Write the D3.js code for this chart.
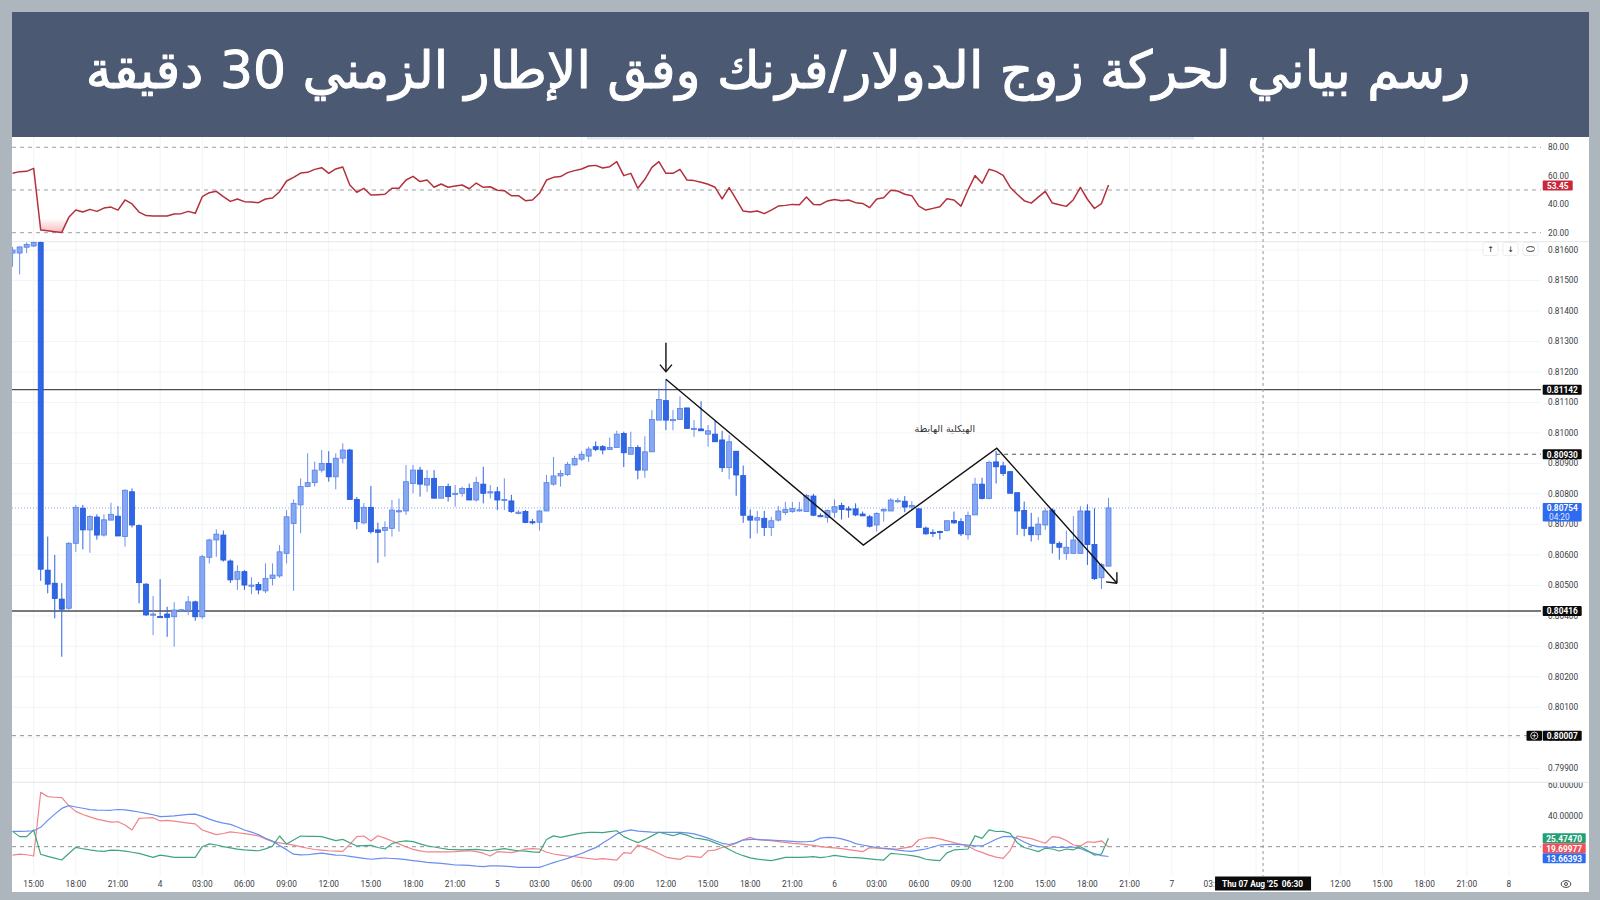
<!DOCTYPE html>
<html><head><meta charset="utf-8">
<script src="https://cdn.jsdelivr.net/npm/d3@7"></script>
<style>
html,body{margin:0;padding:0;background:#adb5bd;}
svg{display:block;}
</style></head><body>
<svg id="c" width="1600" height="900"></svg>
<script>
// ---------------- DATA ----------------
const titleText = "رسم بياني لحركة زوج الدولار/فرنك وفق الإطار الزمني 30 دقيقة";
const structureLabel = "الهيكلية الهابطة";

const openP = [0.81590,0.81590,0.81609,0.81613,0.81625,0.80550,0.80507,0.80455,0.80425,0.80638,
0.80753,0.80682,0.80724,0.80665,0.80714,0.80727,0.80660,0.80807,0.80696,0.80504,
0.80405,0.80398,0.80406,0.80397,0.80419,0.80417,0.80446,0.80397,0.80592,0.80649,
0.80665,0.80580,0.80520,0.80545,0.80500,0.80503,0.80482,0.80523,0.80531,0.80605,
0.80703,0.80764,0.80824,0.80837,0.80878,0.80900,0.80856,0.80917,0.80944,0.80782,
0.80705,0.80756,0.80682,0.80680,0.80687,0.80742,0.80744,0.80834,0.80878,0.80829,
0.80851,0.80786,0.80824,0.80802,0.80802,0.80818,0.80780,0.80832,0.80807,0.80807,
0.80782,0.80777,0.80738,0.80742,0.80709,0.80707,0.80744,0.80832,0.80859,0.80864,
0.80895,0.80914,0.80924,0.80955,0.80955,0.80946,0.80952,0.80998,0.80930,0.80952,
0.80878,0.80938,0.81042,0.81106,0.81044,0.81044,0.81082,0.81015,0.81013,0.80996,
0.80996,0.80977,0.80886,0.80940,0.80860,0.80727,0.80714,0.80720,0.80690,0.80714,
0.80739,0.80742,0.80747,0.80742,0.80793,0.80729,0.80722,0.80740,0.80762,0.80751,
0.80751,0.80734,0.80725,0.80698,0.80744,0.80744,0.80778,0.80776,0.80757,0.80751,
0.80688,0.80674,0.80677,0.80680,0.80713,0.80709,0.80666,0.80731,0.80832,0.80785,
0.80905,0.80892,0.80873,0.80804,0.80746,0.80691,0.80666,0.80698,0.80747,0.80638,
0.80605,0.80605,0.80605,0.80744,0.80634,0.80525,0.80563];
const highP = [0.81610,0.81612,0.81625,0.81630,0.81630,0.80660,0.80600,0.80507,0.80642,0.80764,
0.80764,0.80730,0.80733,0.80733,0.80771,0.80760,0.80815,0.80818,0.80700,0.80507,
0.80465,0.80520,0.80430,0.80445,0.80422,0.80465,0.80450,0.80600,0.80653,0.80684,
0.80680,0.80585,0.80566,0.80550,0.80527,0.80511,0.80572,0.80572,0.80632,0.80747,
0.80782,0.80851,0.80933,0.80906,0.80944,0.80940,0.80933,0.80966,0.80948,0.80790,
0.80770,0.80826,0.80706,0.80710,0.80780,0.80785,0.80895,0.80895,0.80889,0.80878,
0.80878,0.80824,0.80834,0.80829,0.80824,0.80834,0.80856,0.80889,0.80829,0.80823,
0.80851,0.80797,0.80747,0.80747,0.80718,0.80747,0.80862,0.80921,0.80878,0.80905,
0.80925,0.80940,0.80955,0.80972,0.80960,0.80985,0.81007,0.81004,0.81004,0.80960,
0.80989,0.81075,0.81146,0.81176,0.81075,0.81120,0.81082,0.81042,0.81104,0.81026,
0.81040,0.81007,0.80994,0.80940,0.80893,0.80749,0.80744,0.80744,0.80725,0.80760,
0.80774,0.80774,0.80774,0.80800,0.80800,0.80736,0.80749,0.80782,0.80771,0.80760,
0.80769,0.80742,0.80731,0.80740,0.80753,0.80786,0.80786,0.80793,0.80776,0.80753,
0.80693,0.80684,0.80680,0.80712,0.80742,0.80720,0.80742,0.80853,0.80853,0.80909,
0.80941,0.80905,0.80875,0.80804,0.80775,0.80738,0.80724,0.80753,0.80753,0.80644,
0.80680,0.80727,0.80760,0.80766,0.80753,0.80573,0.80787];
const lowP = [0.81545,0.81520,0.81590,0.81610,0.80515,0.80474,0.80392,0.80266,0.80420,0.80610,
0.80618,0.80607,0.80650,0.80660,0.80714,0.80662,0.80627,0.80690,0.80441,0.80400,
0.80337,0.80394,0.80331,0.80299,0.80415,0.80403,0.80384,0.80390,0.80572,0.80594,
0.80578,0.80508,0.80485,0.80485,0.80471,0.80471,0.80475,0.80500,0.80525,0.80572,
0.80482,0.80671,0.80824,0.80824,0.80870,0.80840,0.80815,0.80900,0.80782,0.80684,
0.80700,0.80670,0.80574,0.80594,0.80660,0.80676,0.80731,0.80802,0.80791,0.80807,
0.80786,0.80786,0.80775,0.80758,0.80791,0.80780,0.80775,0.80769,0.80785,0.80747,
0.80747,0.80738,0.80733,0.80704,0.80700,0.80680,0.80744,0.80827,0.80824,0.80859,
0.80892,0.80908,0.80905,0.80940,0.80930,0.80944,0.80952,0.80888,0.80930,0.80848,
0.80853,0.80938,0.81042,0.81009,0.81009,0.81042,0.81013,0.80987,0.81009,0.80955,
0.80971,0.80872,0.80848,0.80794,0.80705,0.80654,0.80670,0.80662,0.80662,0.80709,
0.80731,0.80738,0.80742,0.80742,0.80727,0.80724,0.80706,0.80722,0.80716,0.80722,
0.80727,0.80727,0.80690,0.80676,0.80709,0.80744,0.80771,0.80740,0.80746,0.80689,
0.80666,0.80659,0.80650,0.80677,0.80702,0.80662,0.80650,0.80731,0.80782,0.80782,
0.80834,0.80859,0.80802,0.80665,0.80661,0.80644,0.80648,0.80682,0.80605,0.80584,
0.80584,0.80605,0.80605,0.80567,0.80518,0.80488,0.80563];
const closeP = [0.81600,0.81610,0.81618,0.81625,0.80553,0.80504,0.80457,0.80422,0.80638,0.80756,
0.80682,0.80726,0.80665,0.80715,0.80733,0.80662,0.80812,0.80698,0.80509,0.80403,
0.80406,0.80395,0.80395,0.80419,0.80420,0.80446,0.80397,0.80594,0.80649,0.80668,
0.80583,0.80518,0.80545,0.80501,0.80501,0.80485,0.80523,0.80534,0.80610,0.80725,
0.80769,0.80824,0.80837,0.80878,0.80900,0.80856,0.80917,0.80944,0.80782,0.80709,
0.80756,0.80676,0.80674,0.80690,0.80747,0.80745,0.80840,0.80878,0.80832,0.80851,
0.80786,0.80824,0.80791,0.80802,0.80818,0.80780,0.80837,0.80802,0.80807,0.80780,
0.80782,0.80742,0.80740,0.80706,0.80706,0.80744,0.80837,0.80859,0.80867,0.80897,
0.80916,0.80930,0.80947,0.80946,0.80944,0.80952,0.80996,0.80935,0.80952,0.80878,
0.80938,0.81044,0.81110,0.81042,0.81044,0.81080,0.81015,0.81015,0.81007,0.81007,
0.80971,0.80886,0.80971,0.80862,0.80730,0.80714,0.80722,0.80690,0.80712,0.80744,
0.80749,0.80752,0.80748,0.80795,0.80730,0.80728,0.80746,0.80758,0.80749,0.80750,
0.80731,0.80728,0.80694,0.80736,0.80749,0.80780,0.80778,0.80757,0.80762,0.80690,
0.80669,0.80673,0.80676,0.80712,0.80705,0.80669,0.80729,0.80832,0.80785,0.80903,
0.80889,0.80867,0.80802,0.80744,0.80687,0.80666,0.80701,0.80744,0.80638,0.80625,
0.80625,0.80649,0.80744,0.80634,0.80522,0.80568,0.80754];

const rsi = [61.7,62.9,63.1,65.2,21.9,21.3,20.7,20.2,30.8,35.9,
34.5,36.4,35.0,37.3,38.0,35.9,43.0,40.2,34.5,32.0,
31.7,31.7,31.7,33.1,33.4,35.0,33.6,45.3,48.1,49.1,
45.3,42.0,43.7,41.8,41.6,41.1,43.7,44.4,48.8,56.3,
58.9,61.9,62.4,64.5,65.7,61.7,64.8,66.2,53.5,48.4,
51.2,46.5,46.7,47.0,51.2,51.2,57.0,59.6,55.9,57.0,
51.9,54.2,51.9,52.8,53.5,50.9,54.9,51.9,52.3,49.8,
49.5,46.0,46.0,42.5,43.0,47.7,57.0,58.9,59.4,62.2,
63.6,64.8,66.9,67.3,65.5,66.4,69.9,60.1,61.7,51.2,
57.5,65.9,69.9,61.7,61.7,64.5,57.0,56.6,55.4,54.0,
51.9,43.7,51.6,43.4,35.2,34.5,35.2,33.4,35.9,38.7,
39.2,39.9,39.7,45.1,39.9,39.7,42.3,43.4,42.5,43.0,
41.1,40.6,37.6,43.7,44.6,49.8,49.3,47.0,46.0,38.7,
35.9,37.1,38.3,43.9,43.0,38.7,50.0,60.1,54.7,64.6,
63.1,60.3,52.0,47.0,42.5,40.8,45.0,49.0,40.8,39.6,
38.5,43.2,51.8,43.5,37.0,40.5,53.45];

const adx = [29.9,29.9,30.0,30.3,32.5,37.0,41.0,44.7,46.5,45.6,
44.8,43.9,43.6,43.5,43.5,44.0,43.8,43.1,42.4,41.5,
40.6,39.4,39.6,39.9,40.4,40.8,41.0,39.6,37.8,36.3,
35.2,34.4,32.7,30.8,29.4,27.8,25.4,23.6,20.7,18.1,
15.2,14.7,14.8,15.4,15.9,15.2,14.6,14.5,13.8,13.1,
12.5,11.9,12.3,12.7,12.4,12.1,11.6,11.0,10.5,9.9,
9.6,9.3,8.8,8.2,8.1,8.0,7.5,7.2,7.6,7.6,
7.5,7.1,6.7,6.7,6.7,6.7,8.2,9.7,11.1,12.5,
14.1,15.6,17.6,19.4,22.4,25.2,28.2,29.9,30.8,30.0,
29.7,29.4,29.3,29.3,29.3,29.3,28.9,28.3,27.0,25.5,
23.8,22.2,21.4,22.5,24.3,24.7,24.7,24.4,24.2,24.0,
23.7,23.4,23.1,23.2,23.6,25.5,26.0,25.8,25.0,23.8,
22.0,21.1,20.2,19.5,19.0,18.6,17.8,17.3,17.0,17.8,
18.5,19.8,21.1,21.4,21.7,21.4,21.1,20.5,20.5,22.5,
24.8,26.5,26.6,25.5,23.0,21.0,20.0,19.7,19.6,19.5,
19.6,19.8,18.8,17.0,15.5,14.2,13.66393];

const minusDI = [14.6,15.2,14.8,14.0,55.1,52.3,51.9,51.6,46.5,42.8,
40.8,39.2,37.8,36.8,35.9,36.1,34.0,30.8,38.3,38.5,
38.7,36.6,37.0,36.5,35.8,35.2,34.7,30.8,29.2,27.8,
28.5,29.6,29.0,28.4,27.8,26.9,25.0,23.3,22.5,21.8,
21.0,20.0,19.0,18.2,17.8,17.4,17.2,17.0,21.5,26.5,
26.9,23.7,27.1,25.5,23.7,21.8,20.0,18.3,17.3,16.6,
16.6,16.6,16.7,16.8,17.1,17.4,16.8,15.8,14.0,16.8,
16.5,16.2,17.2,18.4,18.7,18.5,16.4,15.3,14.6,14.0,
13.5,13.0,12.4,11.8,12.3,11.8,11.4,16.2,15.7,21.1,
19.6,17.8,15.6,13.3,12.5,11.8,14.0,13.6,13.1,17.4,
17.8,19.5,20.5,22.3,24.5,26.0,24.5,24.2,23.9,23.3,
22.8,22.2,21.8,21.3,20.8,20.1,19.6,19.2,18.7,18.1,
17.5,16.8,19.4,19.0,18.7,18.4,18.6,19.3,20.0,24.5,
25.6,25.8,25.0,23.8,22.7,21.6,20.5,17.9,16.3,14.6,
13.3,12.5,17.5,26.9,26.0,25.2,23.7,22.2,26.5,26.0,
24.0,21.1,20.5,23.2,22.8,23.8,19.69977];

const plusDI = [29.9,26.5,26.5,30.8,15.1,13.8,12.6,11.4,15.6,19.6,
18.7,17.9,17.3,17.0,17.8,17.6,17.2,16.4,15.7,14.4,
13.1,14.6,13.9,13.1,13.1,13.1,13.1,20.0,21.8,21.1,
20.0,19.2,18.4,17.9,17.6,17.4,18.6,20.4,26.9,21.7,
24.3,26.9,26.7,26.6,26.5,25.2,23.9,24.7,22.6,20.5,
20.7,20.9,19.5,18.5,22.0,23.2,23.7,23.3,21.8,20.5,
19.8,19.0,18.3,18.1,17.9,18.1,18.3,17.8,17.4,18.1,
18.7,18.0,17.4,17.1,16.6,16.4,24.7,27.0,26.0,27.0,
28.0,28.7,29.3,29.2,29.1,29.7,30.3,26.5,24.5,22.6,
24.7,27.0,29.3,28.2,27.1,28.6,27.5,25.6,25.0,24.3,
22.5,20.8,18.2,15.9,14.2,12.8,12.0,11.5,11.0,12.0,
13.1,13.1,13.1,13.3,13.6,12.9,13.5,14.4,13.8,13.1,
12.9,12.6,12.2,11.7,11.4,15.7,15.3,14.8,14.2,13.4,
11.9,11.4,11.0,16.0,17.9,18.2,18.5,27.0,25.4,30.8,
29.8,29.9,28.6,22.6,19.5,18.2,16.8,19.0,18.5,17.2,
18.5,18.0,20.0,17.5,14.6,15.3,25.47470];

const timeLabels = ["15:00","18:00","21:00","4","03:00","06:00","09:00","12:00","15:00","18:00","21:00",
"5","03:00","06:00","09:00","12:00","15:00","18:00","21:00","6","03:00","06:00","09:00","12:00","15:00","18:00","21:00",
"7","03:00","06:00","09:00","12:00","15:00","18:00","21:00","8"];
const firstLabelBar = 3, barsPerLabel = 6;

const priceTicks = [0.79900,0.80000,0.80100,0.80200,0.80300,0.80400,0.80500,0.80600,0.80700,0.80800,0.80900,0.81000,0.81100,0.81200,0.81300,0.81400,0.81500,0.81600];
const rsiTicks = [20,40,60,80];
const rsiLevels = [20,50,80];
const rsiOversold = 30;
const dmiTicks = [40,60];
const dmiLevel = 20;

const solidLevels = [0.81142, 0.80416];
const resistanceLevel = {fromBar: 140, price: 0.80930};
const alertLevel = 0.80007;
const timeLeft = "04:20";

const structurePts = [[93,0.81176],[121.1,0.80632],[140.1,0.80950],[157.2,0.80507]];
const peakArrow = {bar:93, from:0.81296, to:0.81201};
const structureText = {bar:132.7, price:0.81012};

const crossBar = 178;
const crossLabel = "Thu 07 Aug '25";
const crossTime = "06:30";

// ---------------- LAYOUT ----------------
const W=1600, H=900;
const L=12, R=1589, plotR=1541, axisX=1548;
const rsiTop=137, rsiBot=241.7, priceTop=241.7, priceBot=782.3, dmiTop=782.3, dmiBot=876;

const svg = d3.select("#c");
const defs = svg.append("defs");
function clip(id,y0,y1,x0=L,x1=R){defs.append("clipPath").attr("id",id).append("rect").attr("x",x0).attr("y",y0).attr("width",x1-x0).attr("height",y1-y0);}
clip("cRsi",rsiTop,rsiBot,L,plotR);
clip("cPrice",priceTop,priceBot,L,plotR);
clip("cDmi",dmiTop,dmiBot,L,plotR);
clip("cDmiAx",dmiTop+0.5,dmiBot,plotR,R);

const x = d3.scaleLinear().domain([0,213]).range([12.6, 12.6+7.025*213]);
const y = d3.scaleLinear().domain([0.799,0.816]).range([768.3,250]);
const yR = d3.scaleLinear().domain([20,80]).range([232.7,147.3]);
const yD = d3.scaleLinear().domain([20,40]).range([846.7,815.7]);

svg.append("rect").attr("width",W).attr("height",H).attr("fill","#adb5bd");
svg.append("rect").attr("x",L).attr("y",rsiTop).attr("width",R-L).attr("height",892-rsiTop).attr("fill","#ffffff");
svg.append("rect").attr("x",L).attr("y",12).attr("width",R-L).attr("height",125).attr("fill","#4b5a72");
svg.append("rect").attr("x",587).attr("y",137).attr("width",607).attr("height",2.5).attr("fill","#e4e7eb");

// title
const title = svg.append("text").attr("x",778).attr("y",74).attr("text-anchor","middle")
  .attr("direction","rtl").attr("dominant-baseline","middle")
  .attr("font-family","'DejaVu Sans', 'Noto Sans', sans-serif").attr("font-size",48)
  .attr("fill","#ffffff").attr("stroke","#ffffff").attr("stroke-width",1).attr("stroke-linejoin","round").text(titleText);
const tw = title.node().getComputedTextLength();
title.attr("font-size", 48*1385/tw);

// grid
const labelBars = timeLabels.map((t,k)=>firstLabelBar+k*barsPerLabel);
const grid = svg.append("g").attr("stroke","#f3f4f6").attr("stroke-width",1);
labelBars.forEach(b=>{grid.append("line").attr("x1",x(b)).attr("x2",x(b)).attr("y1",rsiTop).attr("y2",dmiBot);});
priceTicks.forEach(p=>{grid.append("line").attr("x1",L).attr("x2",plotR).attr("y1",y(p)).attr("y2",y(p)).attr("clip-path","url(#cPrice)");});

[rsiBot, priceBot].forEach(v=>svg.append("line").attr("x1",L).attr("x2",R).attr("y1",v).attr("y2",v).attr("stroke","#e3e6ea").attr("stroke-width",1));

// ---------- RSI pane ----------
const gR = svg.append("g").attr("clip-path","url(#cRsi)");
rsiLevels.forEach(v=>gR.append("line").attr("x1",L).attr("x2",plotR).attr("y1",yR(v)).attr("y2",yR(v))
  .attr("stroke","#9a9ea6").attr("stroke-width",1).attr("stroke-dasharray","4,4"));
const grad = defs.append("linearGradient").attr("id","gOS").attr("gradientUnits","userSpaceOnUse")
  .attr("x1",0).attr("x2",0).attr("y1",yR(rsiOversold)).attr("y2",yR(20));
grad.append("stop").attr("offset",0).attr("stop-color","#f23645").attr("stop-opacity",0);
grad.append("stop").attr("offset",1).attr("stop-color","#f23645").attr("stop-opacity",0.35);
clip("cOS", yR(rsiOversold), rsiBot, L, plotR);
gR.append("g").attr("clip-path","url(#cOS)").append("path")
  .attr("d", d3.area().x((d,i)=>x(i)).y0(yR(rsiOversold)).y1(d=>yR(d))(rsi))
  .attr("fill","url(#gOS)");
gR.append("path").attr("d", d3.line().x((d,i)=>x(i)).y(d=>yR(d))(rsi))
  .attr("fill","none").attr("stroke","#b3303c").attr("stroke-width",1.5).attr("stroke-linejoin","round");

// ---------- Price pane ----------
const gP = svg.append("g").attr("clip-path","url(#cPrice)");
const lastClose = closeP[closeP.length-1];
gP.append("line").attr("x1",L).attr("x2",plotR).attr("y1",y(lastClose)).attr("y2",y(lastClose))
  .attr("stroke","#8fa9f5").attr("stroke-width",1).attr("stroke-dasharray","1,2");
solidLevels.forEach(p=>gP.append("line").attr("x1",L).attr("x2",plotR).attr("y1",y(p)).attr("y2",y(p))
  .attr("stroke","#4d4d4d").attr("stroke-width",1.3));
gP.append("line").attr("x1",x(resistanceLevel.fromBar)).attr("x2",plotR).attr("y1",y(resistanceLevel.price)).attr("y2",y(resistanceLevel.price))
  .attr("stroke","#4d4d4d").attr("stroke-width",1.2).attr("stroke-dasharray","4,4");
svg.append("line").attr("x1",L).attr("x2",1527).attr("y1",y(alertLevel)).attr("y2",y(alertLevel))
  .attr("stroke","#8d9199").attr("stroke-width",1).attr("stroke-dasharray","4,4");

const candles = openP.map((o,i)=>({i,o,h:highP[i],l:lowP[i],c:closeP[i]}));
const cg = gP.append("g");
const bw = 5;
candles.forEach(d=>{
  const up = d.c>=d.o;
  cg.append("line").attr("x1",x(d.i)).attr("x2",x(d.i)).attr("y1",y(d.h)).attr("y2",y(d.l))
    .attr("stroke", up ? "#6d90ee" : "#2b62e3").attr("stroke-width",1);
  const yt = Math.min(y(d.o),y(d.c)), hh = Math.max(1.2, Math.abs(y(d.o)-y(d.c)));
  cg.append("rect").attr("x",x(d.i)-bw/2).attr("y",yt).attr("width",bw).attr("height",hh)
    .attr("fill", up ? "#86a7f2" : "#2e66e6").attr("stroke", up ? "#5680ea" : "#2557d8").attr("stroke-width",0.8);
});

gP.append("path").attr("d", d3.line().x(d=>x(d[0])).y(d=>y(d[1]))(structurePts))
  .attr("fill","none").attr("stroke","#111").attr("stroke-width",1.4);
const pA = structurePts[structurePts.length-2], pB = structurePts[structurePts.length-1];
const ang = Math.atan2(y(pB[1])-y(pA[1]), x(pB[0])-x(pA[0]));
const tipX = x(pB[0]), tipY = y(pB[1]);
[-1,1].forEach(s=>{
  const a = ang+Math.PI+s*0.72;
  gP.append("line").attr("x1",tipX).attr("y1",tipY).attr("x2",tipX+11*Math.cos(a)).attr("y2",tipY+11*Math.sin(a))
    .attr("stroke","#111").attr("stroke-width",1.4);
});
const ax0 = x(peakArrow.bar), ay0 = y(peakArrow.from), ay1 = y(peakArrow.to);
gP.append("line").attr("x1",ax0).attr("x2",ax0).attr("y1",ay0).attr("y2",ay1).attr("stroke","#111").attr("stroke-width",1.4);
gP.append("path").attr("d",`M${ax0-6},${ay1-7}L${ax0},${ay1}L${ax0+6},${ay1-7}`).attr("fill","none").attr("stroke","#111").attr("stroke-width",1.4);
svg.append("text").attr("x",x(structureText.bar)).attr("y",y(structureText.price)).attr("text-anchor","middle")
  .attr("direction","rtl").attr("dominant-baseline","middle").attr("font-family","'DejaVu Sans', sans-serif")
  .attr("font-size",9.5).attr("fill","#333").text(structureLabel);

// ---------- DMI pane ----------
const gD = svg.append("g").attr("clip-path","url(#cDmi)");
gD.append("line").attr("x1",L).attr("x2",plotR).attr("y1",yD(dmiLevel)).attr("y2",yD(dmiLevel))
  .attr("stroke","#8d9199").attr("stroke-width",1).attr("stroke-dasharray","4,4");
const dLine = d3.line().x((d,i)=>x(i)).y(d=>yD(d));
[[minusDI,"#f08489"],[adx,"#6a8ef0"],[plusDI,"#3fa57f"]].forEach(([arr,col])=>{
  gD.append("path").attr("d",dLine(arr)).attr("fill","none").attr("stroke",col).attr("stroke-width",1.2).attr("stroke-linejoin","round");
});

svg.append("line").attr("x1",x(crossBar)).attr("x2",x(crossBar)).attr("y1",rsiTop).attr("y2",dmiBot)
  .attr("stroke","#9598a1").attr("stroke-width",1).attr("stroke-dasharray","3,3");

// ---------- Axes text ----------
const axFont = "Roboto, 'Liberation Sans', sans-serif";
const axG = svg.append("g").attr("font-family",axFont).attr("font-size",8.3).attr("fill","#3a3d44");
priceTicks.forEach(p=>axG.append("text").attr("x",axisX).attr("y",y(p)).attr("dominant-baseline","central").text(p.toFixed(5)));
rsiTicks.forEach(v=>axG.append("text").attr("x",axisX).attr("y",yR(v)).attr("dominant-baseline","central").text(v.toFixed(2)));
const dAx = axG.append("g").attr("clip-path","url(#cDmiAx)");
dmiTicks.forEach(v=>dAx.append("text").attr("x",axisX).attr("y",yD(v)).attr("dominant-baseline","central").text(v.toFixed(5)));
const crossX = x(crossBar), crossBoxL = crossX-48, crossBoxR = crossX+48;
clip("cTime", 870, 892, 0, crossBoxL);
labelBars.forEach((b,k)=>{
  const xc = x(b);
  if (xc+12 > crossBoxL && xc-12 < crossBoxR) {
    if (xc < crossBoxL) axG.append("g").attr("clip-path","url(#cTime)").append("text").attr("x",xc).attr("y",884)
      .attr("text-anchor","middle").attr("dominant-baseline","central").text(timeLabels[k]);
    return;
  }
  axG.append("text").attr("x",xc).attr("y",884).attr("text-anchor","middle").attr("dominant-baseline","central").text(timeLabels[k]);
});

function box(yc, text, bg, opts={}){
  const x0 = opts.x0 ?? 1542.7, w = opts.w ?? 39, h = opts.h ?? 10;
  const g = svg.append("g");
  g.append("rect").attr("x",x0).attr("y",yc-h/2).attr("width",w).attr("height",h).attr("fill",bg).attr("rx",1);
  g.append("text").attr("x",x0+w/2).attr("y",yc+0.3).attr("text-anchor","middle").attr("dominant-baseline","central")
    .attr("font-family",axFont).attr("font-size",8.3).attr("font-weight","bold").attr("fill","#fff").text(text);
  return g;
}
box(yR(rsi[rsi.length-1])+0.5, rsi[rsi.length-1].toFixed(2), "#c8283a", {w:30});
solidLevels.forEach(p=>box(y(p), p.toFixed(5), "#0b0b0b"));
box(y(resistanceLevel.price), resistanceLevel.price.toFixed(5), "#0b0b0b");
{
  const yc = y(lastClose);
  svg.append("rect").attr("x",1542.7).attr("y",yc-5).attr("width",39).attr("height",18.5).attr("fill","#2f6bf0").attr("rx",1);
  svg.append("text").attr("x",1562.2).attr("y",yc+0.3).attr("text-anchor","middle").attr("dominant-baseline","central")
    .attr("font-family",axFont).attr("font-size",8.3).attr("font-weight","bold").attr("fill","#fff").text(lastClose.toFixed(5));
  svg.append("text").attr("x",1549).attr("y",yc+8.8).attr("dominant-baseline","central")
    .attr("font-family",axFont).attr("font-size",8.3).attr("fill","#dfe8ff").text(timeLeft);
}
{
  const yc = y(alertLevel);
  svg.append("rect").attr("x",1526.5).attr("y",yc-5).attr("width",15.5).attr("height",10).attr("fill","#0b0b0b").attr("rx",1);
  svg.append("circle").attr("cx",1534.3).attr("cy",yc).attr("r",3.6).attr("fill","none").attr("stroke","#fff").attr("stroke-width",0.8);
  svg.append("path").attr("d",`M1532.3,${yc}H1536.3M1534.3,${yc-2}V${yc+2}`).attr("stroke","#fff").attr("stroke-width",0.8);
  box(yc, alertLevel.toFixed(5), "#0b0b0b");
}
{
  const items = [[plusDI,"#22a074"],[minusDI,"#f0505a"],[adx,"#2f6bf0"]];
  let prev = -1e9;
  items.forEach(([arr,col])=>{
    const v = arr[arr.length-1];
    let yc = Math.max(yD(v), prev+10);
    prev = yc;
    box(yc, v.toFixed(5), col, {w:43});
  });
}
{
  svg.append("rect").attr("x",crossBoxL).attr("y",876.5).attr("width",96).attr("height",14).attr("fill","#0b0b0b");
  svg.append("text").attr("x",crossX-41).attr("y",883.7).attr("dominant-baseline","central").attr("font-family",axFont)
    .attr("font-size",8.3).attr("font-weight","bold").attr("fill","#fff").text(crossLabel);
  svg.append("text").attr("x",crossX+40).attr("y",883.7).attr("text-anchor","end").attr("dominant-baseline","central").attr("font-family",axFont)
    .attr("font-size",8.3).attr("font-weight","bold").attr("fill","#fff").text(crossTime);
}
{
  const bx = [1483, 1503, 1523];
  const icons = ["↑","↓",""];
  bx.forEach((b,k)=>{
    svg.append("rect").attr("x",b).attr("y",242.5).attr("width",15).attr("height",13).attr("rx",2)
      .attr("fill","#fff").attr("stroke","#e6e8ec").attr("stroke-width",0.8);
    if(icons[k]) svg.append("text").attr("x",b+7.5).attr("y",249.3).attr("text-anchor","middle").attr("dominant-baseline","central")
      .attr("font-family","'DejaVu Sans', sans-serif").attr("font-size",8).attr("fill","#222").text(icons[k]);
  });
  const c = 1530.5, cy = 249;
  svg.append("path").attr("d",`M${c-4},${cy-0.5}C${c-4},${cy-3} ${c+4},${cy-3} ${c+4},${cy-0.5}M${c-4},${cy+0.5}C${c-4},${cy+3} ${c+4},${cy+3} ${c+4},${cy+0.5}`)
    .attr("fill","none").attr("stroke","#222").attr("stroke-width",0.9);
}
{
  const ex = 1566, ey = 884;
  svg.append("ellipse").attr("cx",ex).attr("cy",ey).attr("rx",4.8).attr("ry",3.4).attr("fill","none").attr("stroke","#333").attr("stroke-width",0.9);
  svg.append("circle").attr("cx",ex).attr("cy",ey).attr("r",1.5).attr("fill","none").attr("stroke","#333").attr("stroke-width",0.9);
}
</script>
</body></html>
